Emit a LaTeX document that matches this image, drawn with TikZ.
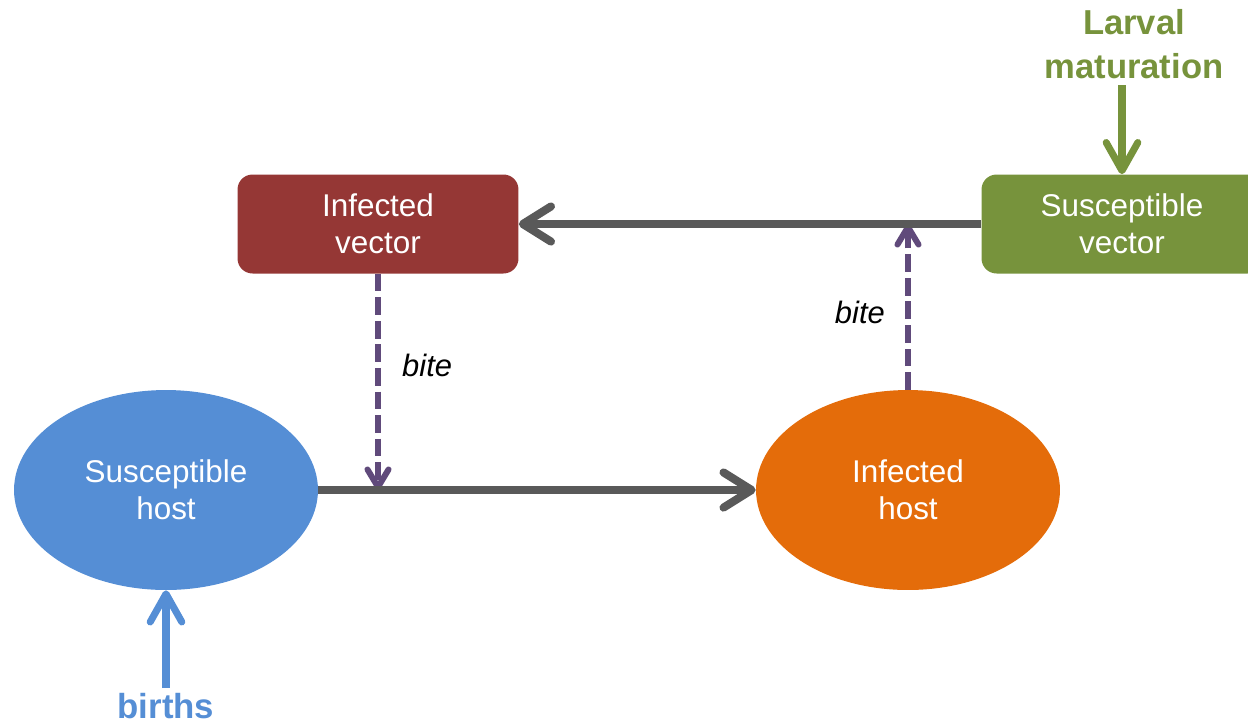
\documentclass[tikz,border=0pt]{standalone}
\usepackage{fontspec}
\setmainfont{Liberation Sans}
\usetikzlibrary{shapes.geometric,arrows.meta}
\definecolor{vecred}{HTML}{953735}
\definecolor{vecgreen}{HTML}{77933C}
\definecolor{hostblue}{HTML}{558ED5}
\definecolor{hostorange}{HTML}{E46C0A}
\definecolor{flowgray}{HTML}{595959}
\definecolor{bitepurple}{HTML}{604A7B}
\begin{document}
\begin{tikzpicture}[x=.02cm,y=-.02cm,
		hostnode/.style={ellipse,minimum width=6.08cm,minimum height=4cm,inner sep=0pt,text=white,align=center,font=\fontsize{17.9}{21}\selectfont},
		vecbox/.style={rounded corners=.3cm,minimum width=5.62cm,minimum height=1.98cm,inner sep=0pt,text=white,align=center,font=\fontsize{17.9}{21}\selectfont},
		flow/.style={draw=flowgray,line width=4.6pt,-{Straight Barb[length=16pt,width=20pt,round]}},
		bitearrow/.style={draw=bitepurple,line width=3.4pt,dash pattern=on 10pt off 3.4pt,-{Straight Barb[length=10pt,width=12pt,round]}},
		inarrow/.style={line width=4pt,-{Straight Barb[length=16pt,width=18pt,round]}},
		bitelabel/.style={font=\fontsize{17.6}{21}\itshape}]
			\clip (0,0) rectangle (1248,725);
			% vectors
			\node[vecbox,fill=vecred] (iv) at (378,224) {Infected\\vector};
			\node[vecbox,fill=vecgreen] (sv) at (1122,224) {Susceptible\\vector};
			% hosts
			\node[hostnode,fill=hostblue] (sh) at (166,490) {Susceptible\\host};
			\node[hostnode,fill=hostorange] (ih) at (908,490) {Infected\\host};
			% bites
			\draw[bitearrow] (iv.south) -- (iv.south |- sh.east);
			\draw[bitearrow] (ih.north) -- (ih.north |- sv.west);
			\node[bitelabel,anchor=west] at (396,365) {bite};
			\node[bitelabel,anchor=east] at (891,312) {bite};
			\draw[flow] (sv.west) -- (iv.east);
			\draw[flow] (sh.east) -- (ih.west);
			% inflows
			\node[text=vecgreen,align=center,font=\fontsize{19.7}{25}\bfseries] (larv) at (1134,44) {Larval\\maturation};
			\coordinate (larvtop) at (1122,85);
			\draw[inarrow,draw=vecgreen] (larvtop) -- (larvtop |- sv.north);
			\node[text=hostblue,inner sep=0pt,font=\fontsize{19.8}{24}\bfseries] (births) at (166,706) {births};
			\coordinate (birthbot) at (166,688);
			\draw[inarrow,draw=hostblue] (birthbot) -- (sh.south);
		\end{tikzpicture}
\end{document}
